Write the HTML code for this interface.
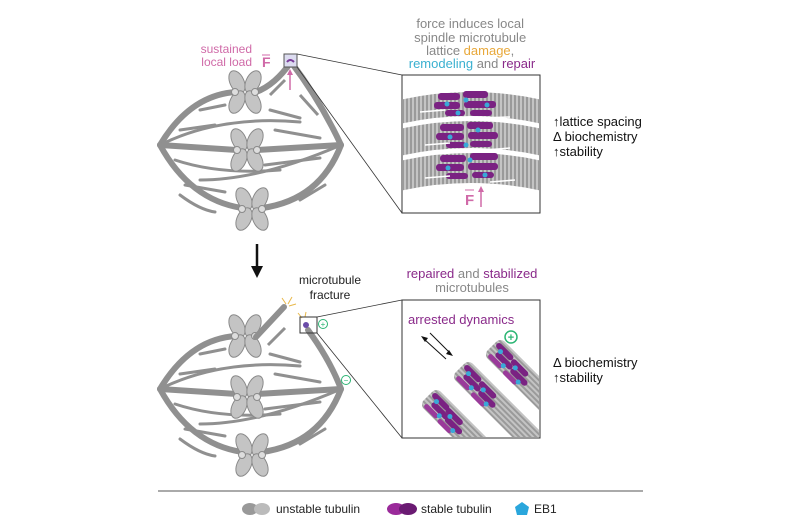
<!DOCTYPE html>
<html><head><meta charset="utf-8"><style>
body{margin:0;background:#fff;}
svg{display:block;font-family:"Liberation Sans",sans-serif;}
</style></head><body>
<svg width="800" height="530" viewBox="0 0 800 530" xmlns="http://www.w3.org/2000/svg">
<defs>
<pattern id="st" width="4" height="4" patternUnits="userSpaceOnUse">
<rect width="4" height="4" fill="#9a9a9a"/><rect width="2" height="4" fill="#c4c4c4"/>
</pattern>
<pattern id="st2" width="4" height="4" patternUnits="userSpaceOnUse">
<rect width="4" height="4" fill="#9a9a9a"/><rect width="4" height="2" fill="#c4c4c4"/>
</pattern>
<g id="chrom" fill="#c4c4c4" stroke="#8a8a8a" stroke-width="1">
<ellipse cx="-8" cy="-10" rx="7" ry="12" transform="rotate(-25 -8 -10)"/>
<ellipse cx="-8" cy="10" rx="7" ry="12" transform="rotate(25 -8 10)"/>
<ellipse cx="8" cy="-10" rx="7" ry="12" transform="rotate(25 8 -10)"/>
<ellipse cx="8" cy="10" rx="7" ry="12" transform="rotate(-25 8 10)"/>
<circle cx="-10" cy="0" r="3.5" fill="#ddd"/>
<circle cx="10" cy="0" r="3.5" fill="#ddd"/>
</g>
<g id="pills">
<rect x="0" y="-8" width="22" height="6" rx="3" fill="#7a2282"/>
<rect x="6" y="-1" width="22" height="6" rx="3" fill="#7a2282"/>
<rect x="2" y="6" width="18" height="5" rx="2.5" fill="#9a3a9a"/>
<circle cx="8" cy="-2" r="2.5" fill="#3aa8d8"/><circle cx="20" cy="6" r="2.5" fill="#3aa8d8"/>
</g>
<g id="spfib" fill="none" stroke="#909090" stroke-linecap="round">
<path d="M160,145 Q190,95 236,92" stroke-width="6"/>
<path d="M160,145 L237,150" stroke-width="6"/>
<path d="M257,150 L341,145" stroke-width="6"/>
<path d="M160,145 Q190,200 242,208" stroke-width="6"/>
<path d="M262,208 Q320,200 341,145" stroke-width="6"/>
<path d="M160,145 Q220,115 300,122" stroke-width="3"/>
<path d="M200,180 Q260,180 341,145" stroke-width="3"/>
<path d="M175,160 Q220,175 280,170" stroke-width="3"/>
<path d="M180,130 L215,125" stroke-width="3"/>
<path d="M275,130 L320,138" stroke-width="3"/>
<path d="M265,165 L320,158" stroke-width="3"/>
<path d="M185,185 L225,192" stroke-width="3"/>
<path d="M270,110 L300,118" stroke-width="3"/>
<path d="M200,110 L225,105" stroke-width="3"/>
<path d="M180,195 Q200,210 215,212" stroke-width="3"/>
<path d="M300,200 L325,185" stroke-width="3"/>
</g>
</defs>

<!-- TOP SPINDLE -->
<use href="#spfib"/>
<path d="M256,92 Q275,85 291,62 Q320,100 341,145" fill="none" stroke="#909090" stroke-width="6" stroke-linecap="round"/>
<path d="M270,95 L285,80" stroke="#909090" stroke-width="3" fill="none"/>
<path d="M300,95 L318,115" stroke="#909090" stroke-width="3" fill="none"/>
<use href="#chrom" x="245" y="92"/>
<use href="#chrom" x="247" y="150"/>
<use href="#chrom" x="252" y="209"/>
<rect x="284" y="54" width="13" height="13" fill="#dcdcf0" stroke="#555"/>
<path d="M287,62 Q290,58 294,62" stroke="#7a3d9a" stroke-width="2" fill="none"/>
<line x1="290" y1="90" x2="290" y2="72" stroke="#d06aa8" stroke-width="1.5"/>
<path d="M287,75 L290,69 L293,75Z" fill="#d06aa8"/>
<text x="252" y="53" font-size="12" fill="#d06aa8" text-anchor="end">sustained</text>
<text x="252" y="66" font-size="12" fill="#d06aa8" text-anchor="end">local load</text>
<text x="262" y="67" font-size="14" font-weight="bold" fill="#d06aa8">F</text>
<line x1="262" y1="55" x2="270" y2="55" stroke="#d06aa8" stroke-width="1"/>
<line x1="297" y1="54" x2="402" y2="75" stroke="#333" stroke-width="0.8"/>
<line x1="297" y1="67" x2="402" y2="213" stroke="#333" stroke-width="0.8"/>

<text font-size="13" fill="#888" text-anchor="middle">
<tspan x="472" y="28">force induces local</tspan>
<tspan x="472" y="42">spindle microtubule</tspan>
<tspan x="472" y="55">lattice <tspan fill="#e8a83a">damage</tspan>,</tspan>
<tspan x="472" y="68"><tspan fill="#3ab0d0">remodeling</tspan> and <tspan fill="#8a2a8a">repair</tspan></tspan>
</text>
<rect x="402" y="75" width="138" height="138" fill="#fff" stroke="#333" stroke-width="1"/>
<clipPath id="c1"><rect x="403" y="76" width="136" height="136"/></clipPath>
<g clip-path="url(#c1)">
<path d="M395,101 Q471,83 547,101 L547,125 Q471,107 395,125Z" fill="url(#st)"/>
<path d="M395,130 Q471,112 547,130 L547,157 Q471,139 395,157Z" fill="url(#st)"/>
<path d="M395,162 Q471,144 547,162 L547,192 Q471,174 395,192Z" fill="url(#st)"/>
<g fill="#7a2282">
<rect x="438" y="93" width="22" height="7" rx="3"/><rect x="463" y="91" width="25" height="7" rx="3"/>
<rect x="434" y="102" width="26" height="7" rx="3"/><rect x="464" y="101" width="32" height="7" rx="3"/><rect x="445" y="110" width="20" height="6" rx="3"/><rect x="470" y="110" width="22" height="6" rx="3"/>
<rect x="440" y="124" width="24" height="7" rx="3"/><rect x="467" y="122" width="26" height="7" rx="3"/><rect x="436" y="133" width="28" height="7" rx="3"/><rect x="468" y="132" width="30" height="7" rx="3"/><rect x="446" y="142" width="20" height="6" rx="3"/><rect x="470" y="141" width="22" height="6" rx="3"/>
<rect x="440" y="155" width="26" height="7" rx="3"/><rect x="470" y="153" width="28" height="7" rx="3"/><rect x="436" y="164" width="28" height="7" rx="3"/><rect x="468" y="163" width="30" height="7" rx="3"/><rect x="446" y="173" width="22" height="6" rx="3"/><rect x="472" y="172" width="22" height="6" rx="3"/>
</g>
<g fill="#3aa8d8">
<circle cx="447" cy="104" r="2.5"/><circle cx="466" cy="100" r="2.5"/><circle cx="487" cy="105" r="2.5"/><circle cx="458" cy="113" r="2.5"/>
<circle cx="450" cy="137" r="2.5"/><circle cx="478" cy="130" r="2.5"/><circle cx="466" cy="145" r="2.5"/>
<circle cx="448" cy="168" r="2.5"/><circle cx="470" cy="160" r="2.5"/><circle cx="485" cy="175" r="2.5"/>
</g>
<g stroke="#fff" stroke-width="1.5">
<line x1="420" y1="112" x2="445" y2="110"/><line x1="480" y1="118" x2="510" y2="117"/>
<line x1="425" y1="145" x2="450" y2="143"/><line x1="485" y1="150" x2="510" y2="148"/>
<line x1="425" y1="178" x2="450" y2="176"/><line x1="490" y1="182" x2="515" y2="180"/>
</g>
</g>
<text x="465" y="205" font-size="15" font-weight="bold" fill="#d06aa8">F</text>
<line x1="465" y1="190" x2="474" y2="190" stroke="#d06aa8"/>
<line x1="481" y1="207" x2="481" y2="190" stroke="#d06aa8" stroke-width="1.5"/>
<path d="M478,192 L481,186 L484,192Z" fill="#d06aa8"/>
<text font-size="13" fill="#111"><tspan x="553" y="126">↑lattice spacing</tspan><tspan x="553" y="141">Δ biochemistry</tspan><tspan x="553" y="156">↑stability</tspan></text>

<!-- ARROW -->
<line x1="257" y1="244" x2="257" y2="270" stroke="#111" stroke-width="2.5"/>
<path d="M251,266 L257,278 L263,266Z" fill="#111"/>

<!-- BOTTOM SPINDLE -->
<g transform="translate(0,244)"><use href="#spfib"/>
<use href="#chrom" x="245" y="92"/>
<use href="#chrom" x="247" y="153"/>
<use href="#chrom" x="252" y="211"/></g>
<path d="M256,337 L284,307" stroke="#909090" stroke-width="6" stroke-linecap="round"/>
<path d="M308,330 Q330,360 341,389" stroke="#909090" stroke-width="6" fill="none" stroke-linecap="round"/>
<path d="M268,345 L285,328" stroke="#909090" stroke-width="3"/>
<g stroke="#e8b84a" stroke-width="1"><line x1="286" y1="304" x2="282" y2="298"/><line x1="288" y1="304" x2="292" y2="297"/><line x1="289" y1="306" x2="296" y2="304"/><line x1="302" y1="318" x2="298" y2="313"/><line x1="305" y1="317" x2="306" y2="312"/></g>
<rect x="300" y="317" width="17" height="16" fill="none" stroke="#333"/>
<circle cx="306" cy="325" r="3" fill="#6a4ca8"/>
<circle cx="323" cy="324" r="4.5" fill="none" stroke="#2cb574"/><text x="323" y="327" font-size="8" fill="#2cb574" text-anchor="middle">+</text>
<circle cx="346" cy="380" r="4.5" fill="none" stroke="#2cb574"/><text x="346" y="383" font-size="8" fill="#2cb574" text-anchor="middle">−</text>
<text font-size="12" fill="#222" text-anchor="middle"><tspan x="330" y="284">microtubule</tspan><tspan x="330" y="299">fracture</tspan></text>
<line x1="317" y1="317" x2="402" y2="300" stroke="#333" stroke-width="0.8"/>
<line x1="317" y1="333" x2="402" y2="438" stroke="#333" stroke-width="0.8"/>

<text font-size="13" text-anchor="middle"><tspan x="472" y="278"><tspan fill="#8a2a8a">repaired</tspan><tspan fill="#888"> and </tspan><tspan fill="#8a2a8a">stabilized</tspan></tspan><tspan x="472" y="292" fill="#888">microtubules</tspan></text>
<rect x="402" y="300" width="138" height="138" fill="#fff" stroke="#333"/>
<clipPath id="c2"><rect x="403" y="301" width="136" height="136"/></clipPath>
<g clip-path="url(#c2)">
<g transform="translate(428,396) rotate(45)"><rect x="0" y="-12" width="140" height="24" rx="6" fill="url(#st2)"/><use href="#pills" x="2"/><use href="#pills" x="22" y="1"/></g>
<g transform="translate(460,368) rotate(45)"><rect x="0" y="-12" width="140" height="24" rx="6" fill="url(#st2)"/><use href="#pills" x="2"/><use href="#pills" x="24" y="1"/></g>
<g transform="translate(492,346) rotate(45)"><rect x="0" y="-12" width="140" height="24" rx="6" fill="url(#st2)"/><use href="#pills" x="2"/><use href="#pills" x="24" y="1"/></g>
</g>
<text x="408" y="324" font-size="13" fill="#8a2a8a">arrested dynamics</text>
<circle cx="511" cy="337" r="6" fill="none" stroke="#2cb574" stroke-width="1.5"/><text x="511" y="341" font-size="11" font-weight="bold" fill="#2cb574" text-anchor="middle">+</text>
<line x1="424" y1="339" x2="446" y2="359" stroke="#111"/><path d="M421,336 L428,338 L425,342Z" fill="#111"/>
<line x1="430" y1="333" x2="450" y2="353" stroke="#111"/><path d="M453,356 L446,354 L449,350Z" fill="#111"/>
<text font-size="13" fill="#111"><tspan x="553" y="367">Δ biochemistry</tspan><tspan x="553" y="382">↑stability</tspan></text>

<!-- LEGEND -->
<line x1="158" y1="491" x2="643" y2="491" stroke="#777" stroke-width="1.2"/>
<ellipse cx="250" cy="509" rx="8" ry="6" fill="#999"/><ellipse cx="262" cy="509" rx="8" ry="6" fill="#bbb"/>
<text x="276" y="513" font-size="12" fill="#222">unstable tubulin</text>
<ellipse cx="396" cy="509" rx="9" ry="6" fill="#9a2a9a"/><ellipse cx="408" cy="509" rx="9" ry="6" fill="#6a1a72"/>
<text x="421" y="513" font-size="12" fill="#222">stable tubulin</text>
<path d="M522,502 L529,507 L527,515 L517,515 L515,507Z" fill="#2aa6dc"/>
<text x="534" y="513" font-size="12" fill="#222">EB1</text>
</svg>
</body></html>
